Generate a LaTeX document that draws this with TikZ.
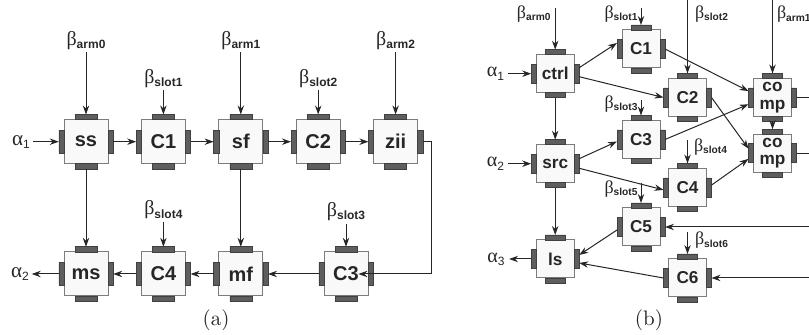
\documentclass[tikz,border=0pt]{standalone}
\usepackage{fontspec}
\usepackage{tikz}
\usetikzlibrary{arrows.meta, positioning, calc}

\newfontfamily\arial{Liberation Sans}
\newfontfamily\grk{Liberation Serif}

\definecolor{boxfill}{HTML}{F9F9F9}
\definecolor{boxline}{HTML}{7C7C7C}
\definecolor{portfill}{HTML}{5E5E5E}
\definecolor{portline}{HTML}{404040}

\newcommand{\ba}[1]{{\grk\fontsize{10}{10}\selectfont β}\raisebox{-1.6pt}{\arial\bfseries\fontsize{6}{6}\selectfont #1}}
\newcommand{\bb}[1]{{\grk\fontsize{9}{9}\selectfont β}\raisebox{-1.3pt}{\arial\bfseries\fontsize{5.1}{5}\selectfont #1}}
\newcommand{\al}[1]{{\grk α}\raisebox{-1.6pt}{\arial\fontsize{6}{6}\selectfont #1}}

\tikzset{
  blk/.style = {draw=boxline, fill=boxfill, minimum size=22pt, inner sep=0pt,
                outer sep=2.6pt, font=\arial\bfseries\fontsize{10}{10}\selectfont},
  sblk/.style = {blk, minimum size=19pt, outer sep=2.5pt, align=center,
                 font=\arial\bfseries\fontsize{8.6}{8.8}\selectfont},
  port/.style = {-, draw=portline, fill=portfill, line width=0.3pt},
  lbl/.style = {inner sep=1.2pt, font=\fontsize{10.5}{10.5}\selectfont},
  blbl/.style = {inner sep=0.5pt, font=\fontsize{10}{10}\selectfont},
}

\begin{document}
\begin{tikzpicture}[
            ->,
            > = {Stealth[length=4.5pt, width=3.2pt]},
            node distance = 38.7pt,
            on grid,
            line width = 0.5pt,
            color = black!85
        ]
        \useasboundingbox (0,0) rectangle (404.5pt,-167.5pt);

        % (a)
        \node[blk] (ss) at (43pt,-70.85pt) {ss};
        \node[blk, right of=ss] (c1) {C1};
        \node[blk, right of=c1] (sf) {sf};
        \node[blk, right of=sf] (c2) {C2};
        \node[blk, right of=c2] (zii) {zii};
        \node[blk, below of=ss, node distance=66.15pt] (ms) {ms};
        \node[blk, right of=ms] (c4) {C4};
        \node[blk, right of=c4] (mf) {mf};
        \node[blk, right of=mf, node distance=52.6pt] (c3) {C3};

        \node[lbl, above of=ss, node distance=50.8pt] (barm0) {\ba{arm0}};
        \node[lbl, above of=c1, node distance=31.8pt] (bslot1) {\ba{slot1}};
        \node[lbl, above of=sf, node distance=50.8pt] (barm1) {\ba{arm1}};
        \node[lbl, above of=c2, node distance=31.8pt] (bslot2) {\ba{slot2}};
        \node[lbl, above of=zii, node distance=50.8pt] (barm2) {\ba{arm2}};
        \node[lbl, above of=c4, node distance=32pt] (bslot4) {\ba{slot4}};
        \node[lbl, above of=c3, node distance=31.2pt] (bslot3) {\ba{slot3}};
        \node[lbl, left of=ss, node distance=32.5pt] (alpha1) {\al{1}};
        \node[lbl, left of=ms, node distance=33pt] (alpha2) {\al{2}};
        \node[font=\fontsize{10.5}{10.5}\selectfont] (capa) at (108pt,-160pt) {(a)};

        \foreach \n in {ss,c1,sf,c2,zii,ms,c4,mf,c3}
            \draw[port, shift={(\n.center)}]
                (-5.5pt,11pt) rectangle (5.5pt,13.6pt)
                (-5.5pt,-11pt) rectangle (5.5pt,-13.6pt)
                (11pt,-5.75pt) rectangle (13.6pt,5.75pt)
                (-11pt,-5.75pt) rectangle (-13.6pt,5.75pt);

        \path (alpha1) edge (ss)
              (barm0)  edge (ss)
              (bslot1) edge (c1)
              (barm1)  edge (sf)
              (bslot2) edge (c2)
              (barm2)  edge (zii)
              (bslot4) edge (c4)
              (bslot3) edge (c3)
              (ss) edge (c1)
              (c1) edge (sf)
              (sf) edge (c2)
              (c2) edge (zii)
              (ss) edge (ms)
              (sf) edge (mf)
              (c3) edge (mf)
              (mf) edge (c4)
              (c4) edge (ms)
              (ms) edge (alpha2);
        \draw (zii.east) -- ++(4.4pt,0) |- ([xshift=6.2pt]c3.center);

        % (b)
        \node[sblk] (ctrl) at (277.6pt,-36.85pt) {ctrl};
        \node[sblk, below of=ctrl, node distance=45pt] (src) {src};
        \node[sblk, below of=src, node distance=47.65pt] (ls) {ls};
        \node[sblk, above right=12.35pt and 42.9pt of ctrl] (s1) {C1};
        \node[sblk, below right=24.25pt and 23.25pt of s1] (s2) {C2};
        \node[sblk, below of=s1, node distance=45.25pt] (s3) {C3};
        \node[sblk, below of=s2, node distance=45pt] (s4) {C4};
        \node[sblk, below of=s3, node distance=43.75pt] (s5) {C5};
        \node[sblk, below of=s4, node distance=45.25pt] (s6) {C6};
        \node[sblk, right of=s2, node distance=42.5pt] (cmp1) {co\\mp};
        \node[sblk, below of=cmp1, node distance=27.9pt] (cmp2) {co\\mp};

        \coordinate[above of=ctrl, node distance=32.9pt] (tctrl);
        \coordinate[above of=s1, node distance=20.5pt] (t1);
        \coordinate[above of=s2, node distance=48.75pt] (t2);
        \coordinate[above of=cmp1, node distance=48.5pt] (tcmp);
        \coordinate[above of=s3, node distance=19.75pt] (t3);
        \coordinate[above of=s4, node distance=23.75pt] (t4);
        \coordinate[above of=s5, node distance=22pt] (t5);
        \coordinate[above of=s6, node distance=23.15pt] (t6);
        \coordinate (rim) at (404.5pt,0);
        \coordinate (o1) at (cmp1.east -| rim);
        \coordinate (o2) at (cmp2.east -| rim);
        \coordinate (i5) at (s5.east -| rim);
        \coordinate (i6) at (s6.east -| rim);

        \node[blbl, anchor=north east] (lctrl) at ([xshift=-1.6pt,yshift=2pt]tctrl) {\bb{arm0}};
        \node[blbl, anchor=north east] (l1) at ([xshift=-1pt,yshift=2pt]t1) {\bb{slot1}};
        \node[blbl, anchor=north west] (l2) at ([xshift=3pt,yshift=-2pt]t2) {\bb{slot2}};
        \node[blbl, anchor=north west] (lcmp) at ([xshift=1.5pt,yshift=-2pt]tcmp) {\bb{arm1}};
        \node[blbl, anchor=north east] (l3) at ([xshift=-1pt,yshift=3pt]t3) {\bb{slot3}};
        \node[blbl, anchor=north west] (l4) at ([xshift=2.5pt,yshift=1.5pt]t4) {\bb{slot4}};
        \node[blbl, anchor=north east] (l5) at ([xshift=-1pt,yshift=2pt]t5) {\bb{slot5}};
        \node[blbl, anchor=north west] (l6) at ([xshift=3pt,yshift=0.5pt]t6) {\bb{slot6}};
        \node[blbl, inner sep=2pt, left of=ctrl, node distance=29.9pt] (b1) {\al{1}};
        \node[blbl, inner sep=2pt, left of=src, node distance=29.9pt] (b2) {\al{2}};
        \node[blbl, inner sep=2pt, left of=ls, node distance=29.6pt] (b3) {\al{3}};
        \node[font=\fontsize{10.5}{10.5}\selectfont] (capb) at (324.5pt,-160pt) {(b)};

        \foreach \n in {ctrl,src,ls,s1,s2,s3,s4,s5,s6,cmp1,cmp2}
            \draw[port, shift={(\n.center)}]
                (-5pt,9.5pt) rectangle (5pt,12pt)
                (-5pt,-9.5pt) rectangle (5pt,-12pt)
                (9.5pt,-4.75pt) rectangle (12pt,4.75pt)
                (-9.5pt,-4.75pt) rectangle (-12pt,4.75pt);

        \path (b1) edge (ctrl)
              (b2) edge (src)
              (ls) edge (b3)
              (tctrl) edge (ctrl)
              (t1) edge (s1)
              (t2) edge (s2)
              (tcmp) edge (cmp1)
              (t3) edge (s3)
              (t4) edge (s4)
              (t5) edge (s5)
              (t6) edge (s6)
              (ctrl) edge (src)
              (src) edge (ls)
              ([yshift=3pt]ctrl.east) edge ([yshift=3pt]s1.west)
              ([yshift=-1.5pt]ctrl.east) edge (s2.west)
              ([yshift=2.5pt]src.east) edge ([yshift=-1pt]s3.west)
              ([yshift=-2.3pt]src.east) edge ([yshift=-1.2pt]s4.west)
              (s1.east) edge ([yshift=3.2pt]cmp1.west)
              (s3.east) edge ([yshift=-3.4pt]cmp1.west)
              (s2.east) edge ([yshift=2.3pt]cmp2.west)
              ([yshift=1.2pt]s4.east) edge ([yshift=-2.8pt]cmp2.west)
              (cmp1) edge (cmp2)
              ([yshift=-1.5pt]s5.west) edge ([yshift=2pt]ls.east)
              (s6.west) edge ([yshift=-2pt]ls.east)
              (i5) edge (s5)
              (i6) edge (s6);
        \draw[-] (cmp1.east) -- (o1);
        \draw[-] (cmp2.east) -- (o2);
    \end{tikzpicture}
\end{document}
